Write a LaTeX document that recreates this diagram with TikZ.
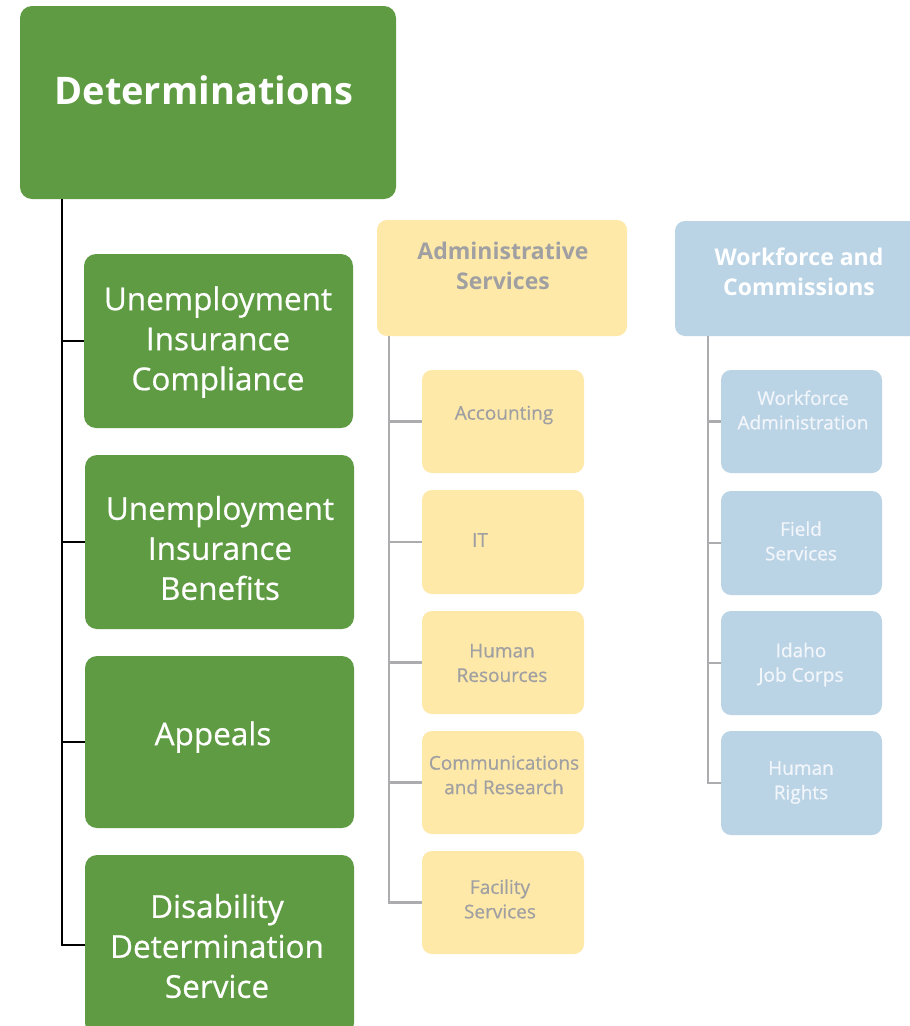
\documentclass[tikz,border=0pt]{standalone}
\usepackage{fontspec}
\setmainfont{Open Sans}
\newfontfamily\medfont[FakeBold=0.6]{Open Sans}
\definecolor{dgreen}{RGB}{94,155,66}
\definecolor{lyellow}{RGB}{254,233,169}
\definecolor{lblue}{RGB}{186,212,230}
\definecolor{tgray}{RGB}{160,160,162}
\definecolor{lgray}{RGB}{172,172,174}
\definecolor{wtext}{RGB}{242,246,250}
\begin{document}
\begin{tikzpicture}[x=1pt,y=-1pt,
  gbox/.style={fill=dgreen, rounded corners=12, draw=none, inner sep=0pt},
  ybox/.style={fill=lyellow, rounded corners=10, draw=none, inner sep=0pt},
  bbox/.style={fill=lblue, rounded corners=10, draw=none, inner sep=0pt},
  gtext/.style={text=white, align=center, font=\medfont\fontsize{31.5}{40}\selectfont, inner sep=0pt},
  ttext/.style={text=white, align=center, font=\fontsize{38}{44}\selectfont\bfseries, inner sep=0pt},
  htext/.style={align=center, font=\fontsize{23}{29.5}\selectfont\bfseries, inner sep=0pt},
  ctext/.style={align=center, font=\medfont\fontsize{19}{24.5}\selectfont, inner sep=0pt},
  blk/.style={draw=black, line width=2.6pt},
  gry/.style={draw=lgray, line width=2.6pt}]
\useasboundingbox (0,0) rectangle (910,1026);
\fill[white] (0,0) rectangle (910,1026);
% green column
\node[gbox, minimum width=376, minimum height=193] (det) at (208,102.5) {};
\node[gbox, minimum width=269, minimum height=174] (uic) at (218.5,341) {};
\node[gbox, minimum width=269, minimum height=174] (uib) at (219.5,542) {};
\node[gbox, minimum width=269, minimum height=172] (app) at (219.5,742) {};
\node[gbox, minimum width=269, minimum height=180] (dds) at (219.5,945) {};
\node[ttext] (detT) at (204,90) {Determinations};
\node[gtext] (uicT) at (218,342) {Unemployment\\Insurance\\Compliance};
\node[gtext] (uibT) at (220,548) {Unemployment\\Insurance\\Benefits};
\node[gtext] (appT) at (213,737) {Appeals};
\node[gtext] (ddsT) at (217,946) {Disability\\Determination\\Service};
\coordinate (t1) at (62,199);
\draw[blk] (t1) |- (dds.west);
\draw[blk] (t1 |- uic.west) -- (uic.west);
\draw[blk] (t1 |- uib.west) -- (uib.west);
\draw[blk] (t1 |- app.west) -- (app.west);
% yellow column
\node[ybox, minimum width=250, minimum height=116] (adm) at (502,278) {};
\node[ybox, minimum width=162, minimum height=103] (acc) at (503,421.5) {};
\node[ybox, minimum width=162, minimum height=104] (it) at (503,542) {};
\node[ybox, minimum width=162, minimum height=103] (hr) at (503,662.5) {};
\node[ybox, minimum width=162, minimum height=103] (cr) at (503,782.5) {};
\node[ybox, minimum width=162, minimum height=103] (fac) at (503,902.5) {};
\node[htext, text=tgray] (admT) at (503,266) {Administrative\\Services};
\node[ctext, text=tgray] (accT) at (504,415) {Accounting};
\node[ctext, text=tgray] (itT) at (480,540) {IT};
\node[ctext, text=tgray] (hrT) at (502,663) {Human\\Resources};
\node[ctext, text=tgray] (crT) at (504,775) {Communications\\and Research};
\node[ctext, text=tgray] (facT) at (500,899) {Facility\\Services};
\coordinate (t2) at (389,336);
\draw[gry] (t2) |- (fac.west);
\draw[gry] (t2 |- acc.west) -- (acc.west);
\draw[gry] (t2 |- it.west) -- (it.west);
\draw[gry] (t2 |- hr.west) -- (hr.west);
\draw[gry] (t2 |- cr.west) -- (cr.west);
% blue column
\node[bbox, minimum width=250, minimum height=115] (wfc) at (800,278.5) {};
\node[bbox, minimum width=161, minimum height=103] (wfa) at (801.5,421.5) {};
\node[bbox, minimum width=161, minimum height=104] (fs) at (801.5,543) {};
\node[bbox, minimum width=161, minimum height=104] (ijc) at (801.5,663) {};
\node[bbox, minimum width=161, minimum height=104] (hrt) at (801.5,783) {};
\node[htext, text=white] (wfcT) at (799,272) {Workforce and\\Commissions};
\node[ctext, text=wtext] (wfaT) at (803,410) {Workforce\\Administration};
\node[ctext, text=wtext] (fsT) at (801,541) {Field\\Services};
\node[ctext, text=wtext] (ijcT) at (801,664.5) {Idaho\\Job Corps};
\node[ctext, text=wtext] (hrtT) at (801,782.5) {Human\\Rights};
\coordinate (t3) at (708,336);
\draw[gry] (t3) |- (hrt.west);
\draw[gry] (t3 |- wfa.west) -- (wfa.west);
\draw[gry] (t3 |- fs.west) -- (fs.west);
\draw[gry] (t3 |- ijc.west) -- (ijc.west);
\end{tikzpicture}
\end{document}
